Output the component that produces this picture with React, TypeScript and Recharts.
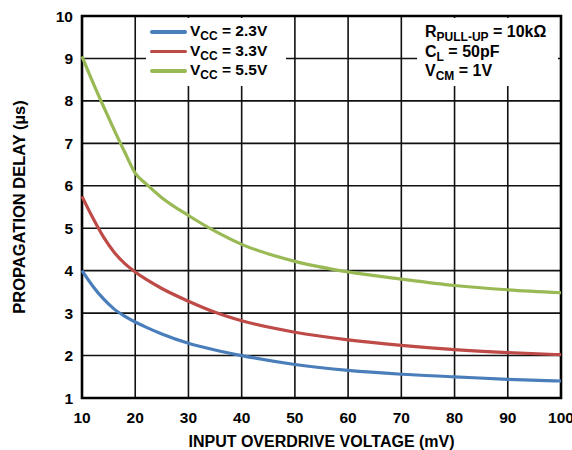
import React from "react";
import {
  LineChart,
  Line,
  XAxis,
  YAxis,
  CartesianGrid,
  ReferenceArea,
} from "recharts";

// Input overdrive voltage (mV)
const overdrive = [10, 12, 14, 16, 18, 20, 22, 25, 30, 35, 40, 50, 60, 70, 80, 90, 100];

// Propagation delay (µs) per supply voltage
const vcc23 = [4.0, 3.64, 3.34, 3.1, 2.93, 2.79, 2.67, 2.51, 2.29, 2.13, 2.0, 1.79, 1.65, 1.56, 1.5, 1.44, 1.4];
const vcc33 = [5.75, 5.25, 4.8, 4.44, 4.17, 3.97, 3.8, 3.58, 3.28, 3.02, 2.82, 2.55, 2.37, 2.24, 2.14, 2.07, 2.02];
const vcc55 = [9.05, 8.45, 7.88, 7.33, 6.8, 6.3, 6.05, 5.72, 5.3, 4.93, 4.62, 4.22, 3.97, 3.8, 3.65, 3.55, 3.48];

const xTicks = [10, 20, 30, 40, 50, 60, 70, 80, 90, 100];
const yTicks = [1, 2, 3, 4, 5, 6, 7, 8, 9, 10];

const SERIES = [
  { key: "v23", label: "2.3V", color: "#4a7ebb" },
  { key: "v33", label: "3.3V", color: "#be4b48" },
  { key: "v55", label: "5.5V", color: "#98b954" },
];

const data = overdrive.map((x, i) => ({
  x,
  v23: vcc23[i],
  v33: vcc33[i],
  v55: vcc55[i],
}));

const FONT = "'Liberation Sans', Arial, sans-serif";
const tickStyle = { fill: "#000", fontSize: 15.5, fontWeight: 700, fontFamily: FONT };

// subscript that does not grow the line box
const sub = { fontSize: 12, position: "relative", top: 4 } as const;

function LegendBox() {
  return (
    <div
      style={{
        position: "absolute",
        left: 146,
        top: 18,
        width: 140,
        height: 68,
        background: "#fff",
        fontFamily: FONT,
        fontWeight: 700,
        fontSize: 15.5,
        color: "#000",
        paddingTop: 4,
        boxSizing: "border-box",
      }}
    >
      {SERIES.map((s) => (
        <div key={s.key} style={{ display: "flex", alignItems: "center", height: 19.5 }}>
          <span
            style={{
              display: "inline-block",
              width: 37,
              height: 3.5,
              background: s.color,
              marginLeft: 4,
              marginRight: 3,
              borderRadius: 2,
            }}
          />
          <span style={{ lineHeight: "15px" }}>
            V<span style={sub}>CC</span> = {s.label}
          </span>
        </div>
      ))}
    </div>
  );
}

function NoteBox() {
  return (
    <div
      style={{
        position: "absolute",
        left: 417,
        top: 18,
        width: 141,
        height: 68,
        background: "#fff",
        fontFamily: FONT,
        fontWeight: 700,
        fontSize: 16,
        color: "#000",
        paddingLeft: 8,
        paddingTop: 5,
        boxSizing: "border-box",
        lineHeight: "18.5px",
      }}
    >
      <div>
        R<span style={sub}>PULL-UP</span> = 10kΩ
      </div>
      <div>
        C<span style={sub}>L</span> = 50pF
      </div>
      <div>
        V<span style={sub}>CM</span> = 1V
      </div>
    </div>
  );
}

export default function App() {
  return (
    <div style={{ position: "absolute", left: 0, top: 0, width: 572, height: 450, background: "#fff" }}>
      <LineChart width={572} height={450} data={data} margin={{ top: 16, right: 11, left: 0, bottom: 0 }}>
        <CartesianGrid stroke="#111" strokeWidth={1.6} />
        <XAxis
          dataKey="x"
          type="number"
          domain={[10, 100]}
          ticks={xTicks}
          height={52}
          tickLine={false}
          axisLine={false}
          tickSize={0}
          tickMargin={14}
          tick={tickStyle}
          interval={0}
          label={{
            value: "INPUT OVERDRIVE VOLTAGE (mV)",
            position: "insideBottom",
            offset: 3,
            style: { fill: "#000", fontSize: 16, fontWeight: 700, fontFamily: FONT },
          }}
        />
        <YAxis
          type="number"
          domain={[1, 10]}
          ticks={yTicks}
          width={82}
          tickLine={false}
          axisLine={false}
          tickSize={0}
          tickMargin={9}
          tick={tickStyle}
          interval={0}
          label={{
            value: "PROPAGATION DELAY (µs)",
            angle: -90,
            position: "insideLeft",
            offset: 19,
            style: { textAnchor: "middle", fill: "#000", fontSize: 16.5, fontWeight: 700, fontFamily: FONT },
          }}
        />
        <ReferenceArea x1={10} x2={100} y1={1} y2={10} fill="none" stroke="#000" strokeWidth={2.6} ifOverflow="visible" />
        {SERIES.map((s) => (
          <Line
            key={s.key}
            type="monotone"
            dataKey={s.key}
            stroke={s.color}
            strokeWidth={3.2}
            dot={false}
            isAnimationActive={false}
          />
        ))}
      </LineChart>
      <LegendBox />
      <NoteBox />
    </div>
  );
}
